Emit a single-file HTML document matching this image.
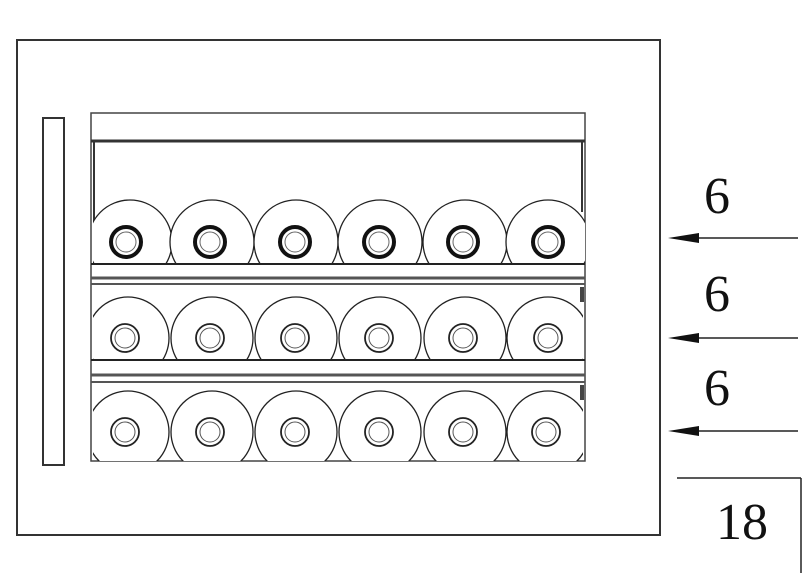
<!DOCTYPE html>
<html><head><style>body{margin:0;background:#fff}svg{display:block}</style></head><body>
<svg width="805" height="582" viewBox="0 0 805 582" xmlns="http://www.w3.org/2000/svg" font-family="Liberation Serif, serif">
<defs>
<clipPath id="c1"><rect x="93" y="140" width="492" height="124"/></clipPath>
<clipPath id="c2"><rect x="93" y="284" width="490" height="76"/></clipPath>
<clipPath id="c3"><rect x="93" y="383" width="490" height="78"/></clipPath>
</defs>
<rect x="17" y="40" width="643" height="495" fill="none" stroke="#333" stroke-width="2"/>
<rect x="43" y="118" width="21" height="347" fill="none" stroke="#333" stroke-width="2"/>
<rect x="91" y="113" width="494" height="348" fill="none" stroke="#444" stroke-width="1.5"/>
<line x1="91" y1="141" x2="585" y2="141" stroke="#333" stroke-width="3"/>
<line x1="94" y1="141" x2="94" y2="225" stroke="#333" stroke-width="2"/>
<line x1="582" y1="141" x2="582" y2="212" stroke="#333" stroke-width="2"/>
<g clip-path="url(#c1)" fill="#fff" stroke="#222" stroke-width="1.3">
<circle cx="130" cy="242" r="42"/><circle cx="212" cy="242" r="42"/><circle cx="296" cy="242" r="42"/><circle cx="380" cy="242" r="42"/><circle cx="465" cy="242" r="42"/><circle cx="548" cy="242" r="42"/>
</g>
<g fill="none" stroke="#111">
<g stroke-width="4"><circle cx="126" cy="242" r="15"/><circle cx="210" cy="242" r="15"/><circle cx="295" cy="242" r="15"/><circle cx="379" cy="242" r="15"/><circle cx="463" cy="242" r="15"/><circle cx="548" cy="242" r="15"/></g>
<g stroke-width="1" stroke="#666"><circle cx="126" cy="242" r="10"/><circle cx="210" cy="242" r="10"/><circle cx="295" cy="242" r="10"/><circle cx="379" cy="242" r="10"/><circle cx="463" cy="242" r="10"/><circle cx="548" cy="242" r="10"/></g>
</g>
<line x1="91" y1="264" x2="585" y2="264" stroke="#222" stroke-width="2"/>
<line x1="91" y1="278" x2="585" y2="278" stroke="#555" stroke-width="3"/>
<line x1="91" y1="284" x2="585" y2="284" stroke="#555" stroke-width="2"/>
<g clip-path="url(#c2)" fill="#fff" stroke="#222" stroke-width="1.3">
<circle cx="128" cy="338" r="41"/><circle cx="212" cy="338" r="41"/><circle cx="296" cy="338" r="41"/><circle cx="380" cy="338" r="41"/><circle cx="465" cy="338" r="41"/><circle cx="548" cy="338" r="41"/>
</g>
<g fill="none" stroke="#222" stroke-width="1.8">
<circle cx="125" cy="338" r="14"/><circle cx="210" cy="338" r="14"/><circle cx="295" cy="338" r="14"/><circle cx="379" cy="338" r="14"/><circle cx="463" cy="338" r="14"/><circle cx="548" cy="338" r="14"/>
<g stroke-width="1" stroke="#555"><circle cx="125" cy="338" r="10"/><circle cx="210" cy="338" r="10"/><circle cx="295" cy="338" r="10"/><circle cx="379" cy="338" r="10"/><circle cx="463" cy="338" r="10"/><circle cx="548" cy="338" r="10"/></g>
</g>
<rect x="580" y="287" width="4" height="15" fill="#444"/>
<line x1="91" y1="360" x2="585" y2="360" stroke="#222" stroke-width="2"/>
<line x1="91" y1="375" x2="585" y2="375" stroke="#555" stroke-width="3"/>
<line x1="91" y1="382" x2="585" y2="382" stroke="#555" stroke-width="2"/>
<g clip-path="url(#c3)" fill="#fff" stroke="#222" stroke-width="1.3">
<circle cx="128" cy="432" r="41"/><circle cx="212" cy="432" r="41"/><circle cx="296" cy="432" r="41"/><circle cx="380" cy="432" r="41"/><circle cx="465" cy="432" r="41"/><circle cx="548" cy="432" r="41"/>
</g>
<g fill="none" stroke="#222" stroke-width="1.8">
<circle cx="125" cy="432" r="14"/><circle cx="210" cy="432" r="14"/><circle cx="295" cy="432" r="14"/><circle cx="379" cy="432" r="14"/><circle cx="463" cy="432" r="14"/><circle cx="546" cy="432" r="14"/>
<g stroke-width="1" stroke="#555"><circle cx="125" cy="432" r="10"/><circle cx="210" cy="432" r="10"/><circle cx="295" cy="432" r="10"/><circle cx="379" cy="432" r="10"/><circle cx="463" cy="432" r="10"/><circle cx="546" cy="432" r="10"/></g>
</g>
<rect x="580" y="385" width="4" height="15" fill="#444"/>
<g stroke="#222" stroke-width="1.5">
<line x1="690" y1="238" x2="798" y2="238"/><line x1="690" y1="338" x2="798" y2="338"/><line x1="690" y1="431" x2="798" y2="431"/>
<line x1="677" y1="478" x2="801" y2="478"/><line x1="801" y1="478" x2="801" y2="573"/>
</g>
<g fill="#111">
<polygon points="668,238 699,233 699,243"/><polygon points="668,338 699,333 699,343"/><polygon points="668,431 699,426 699,436"/>
</g>
<g font-size="52" fill="#111">
<text x="704" y="213">6</text><text x="704" y="311">6</text><text x="704" y="405">6</text>
<text x="716" y="539">18</text>
</g>
</svg>
</body></html>
